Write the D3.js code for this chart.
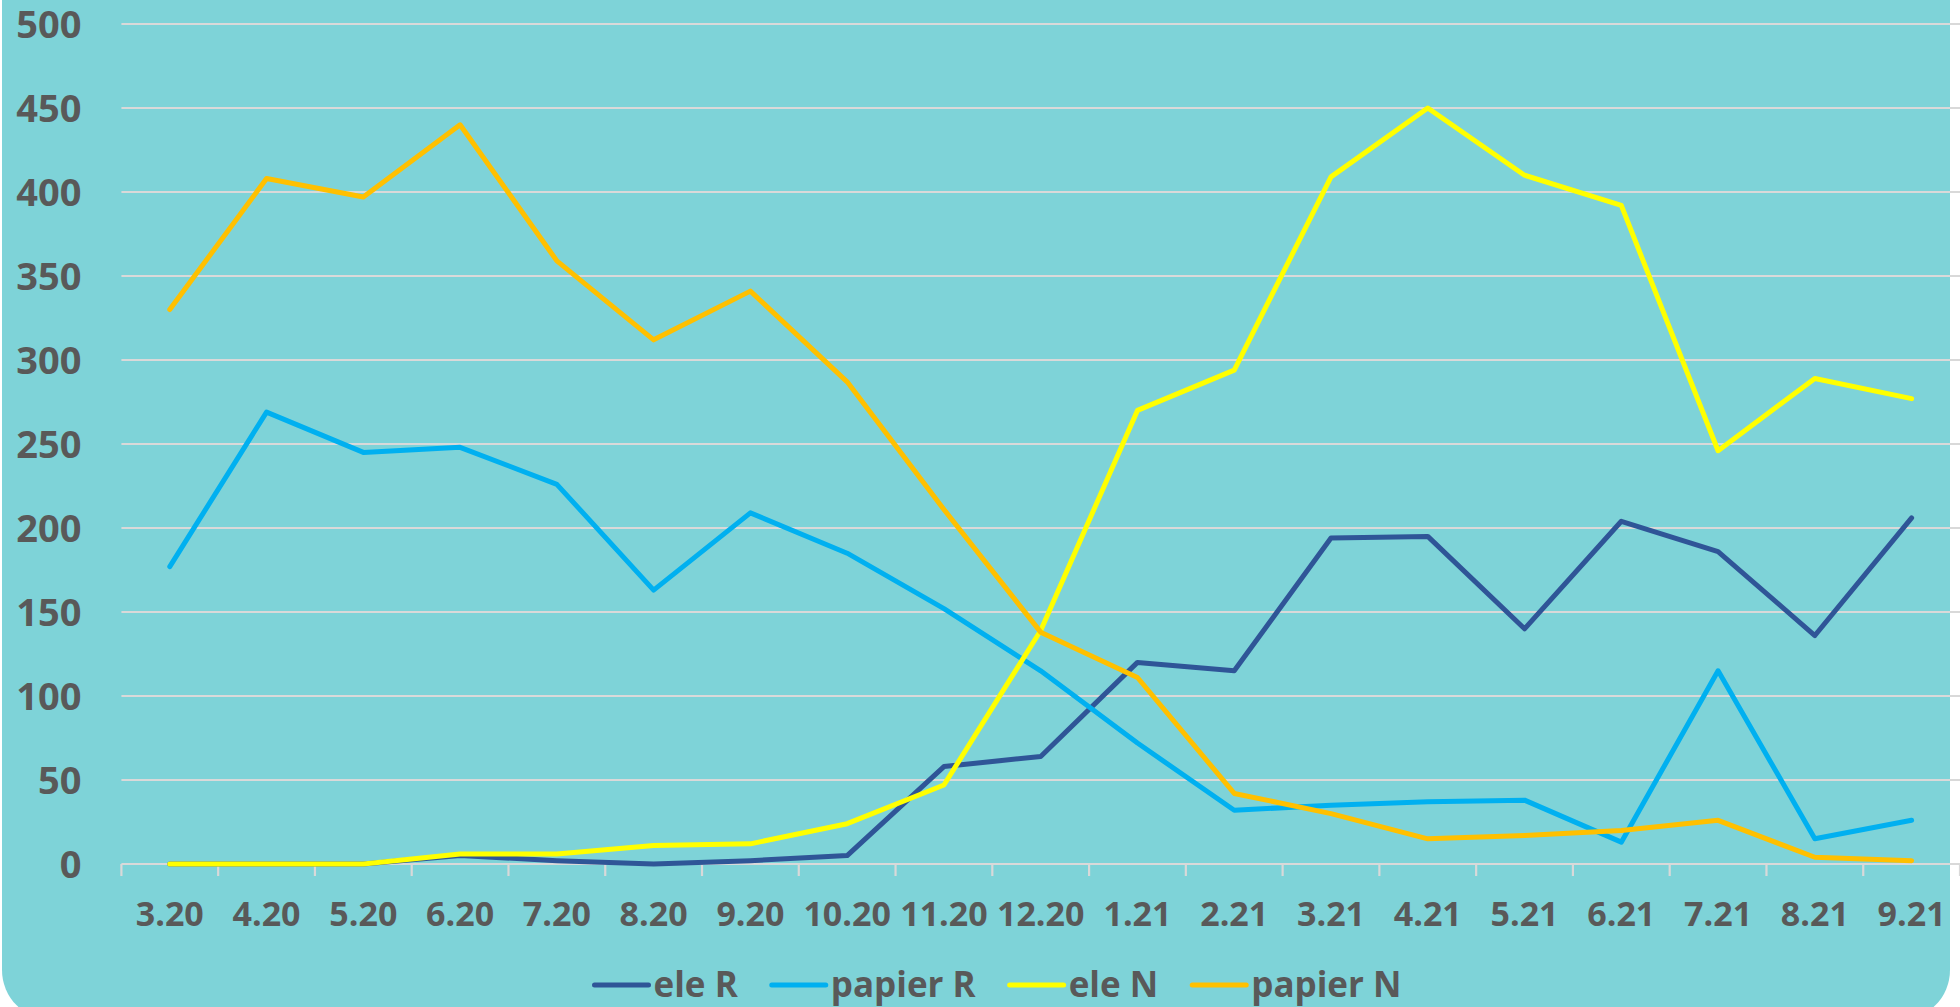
<!DOCTYPE html>
<html>
<head>
<meta charset="utf-8">
<script src="https://cdn.jsdelivr.net/npm/d3@7"></script>
<style>
  html, body { margin: 0; padding: 0; background: #ffffff; }
  svg { display: block; }
  text { font-family: "Open Sans", Lato, sans-serif; font-weight: 700; fill: #595959; }
</style>
</head>
<body>
<svg id="chart" width="1960" height="1007"></svg>
<script>
// months on the x axis
const months = ["3.20", "4.20", "5.20", "6.20", "7.20", "8.20", "9.20", "10.20", "11.20", "12.20",
  "1.21", "2.21", "3.21", "4.21", "5.21", "6.21", "7.21", "8.21", "9.21"]

const eleR    = [0, 0, 0, 5, 2, 0, 2, 5, 58, 64, 120, 115, 194, 195, 140, 204, 186, 136, 206]
const papierR = [177, 269, 245, 248, 226, 163, 209, 185, 152, 115, 72, 32, 35, 37, 38, 13, 115, 15, 26]
const eleN    = [0, 0, 0, 6, 6, 11, 12, 24, 47, 139, 270, 294, 409, 450, 410, 392, 246, 289, 277]
const papierN = [330, 408, 397, 440, 359, 312, 341, 287, 211, 138, 111, 42, 30, 15, 17, 20, 26, 4, 2]

const yTicks = [0, 50, 100, 150, 200, 250, 300, 350, 400, 450, 500]

const series = [
  { name: "ele R", values: eleR, color: "#2F5597" },
  { name: "papier R", values: papierR, color: "#00B0F0" },
  { name: "ele N", values: eleN, color: "#FFFF00" },
  { name: "papier N", values: papierN, color: "#FFC000" }
]

const svg = d3.select("#chart")
const plot = { left: 121.4, right: 1960, top: 24, bottom: 864 }

// teal card behind the chart
svg.append("rect")
  .attr("x", 2).attr("y", -100)
  .attr("width", 1948).attr("height", 1120)
  .attr("rx", 50).attr("ry", 50)
  .attr("fill", "#7ED3D8")

const x = d3.scaleBand()
  .domain(months)
  .range([plot.left, plot.right])
  .padding(0)

const y = d3.scaleLinear()
  .domain([0, 500])
  .range([plot.bottom, plot.top])

// gridlines
svg.append("g")
  .selectAll("line")
  .data(yTicks.filter(d => d > 0))
  .enter()
  .append("line")
  .attr("x1", plot.left).attr("x2", plot.right)
  .attr("y1", d => y(d)).attr("y2", d => y(d))
  .attr("stroke", "#D9D9D9")
  .attr("stroke-width", 2.2)

// y labels
const yAxis = svg.append("g")
  .attr("transform", `translate(${plot.left},0)`)
  .call(d3.axisLeft(y).tickValues(yTicks).tickSize(0).tickPadding(40))
yAxis.select(".domain").remove()
yAxis.selectAll("text")
  .attr("dy", "0.36em")
  .style("font-size", "38px")
  .attr("fill", "#595959")

// x axis line with tick marks between categories
svg.append("line")
  .attr("x1", plot.left).attr("x2", plot.right)
  .attr("y1", plot.bottom).attr("y2", plot.bottom)
  .attr("stroke", "#D9D9D9")
  .attr("stroke-width", 2.2)

svg.append("g")
  .selectAll("line")
  .data(months.concat(["end"]))
  .enter()
  .append("line")
  .attr("x1", (d, i) => plot.left + i * x.step())
  .attr("x2", (d, i) => plot.left + i * x.step())
  .attr("y1", plot.bottom).attr("y2", plot.bottom + 12)
  .attr("stroke", "#D9D9D9")
  .attr("stroke-width", 2.2)

const xAxis = svg.append("g")
  .attr("transform", `translate(0,${plot.bottom})`)
  .call(d3.axisBottom(x).tickSize(0).tickPadding(0))
xAxis.select(".domain").remove()
xAxis.selectAll("text")
  .attr("y", 62)
  .attr("dy", 0)
  .style("font-size", "34px")
  .attr("fill", "#595959")

// lines
const line = d3.line()
  .x((d, i) => x(months[i]) + x.bandwidth() / 2)
  .y(d => y(d))

svg.append("g")
  .selectAll("path")
  .data(series)
  .enter()
  .append("path")
  .attr("d", d => line(d.values))
  .attr("fill", "none")
  .attr("stroke", d => d.color)
  .attr("stroke-width", 5)
  .attr("stroke-linejoin", "round")
  .attr("stroke-linecap", "round")

// legend, laid out from measured text widths and centred
const legend = svg.append("g")
const items = legend.selectAll("g")
  .data(series)
  .enter()
  .append("g")
items.append("line")
  .attr("x1", 0).attr("x2", 54)
  .attr("y1", 985).attr("y2", 985)
  .attr("stroke", d => d.color)
  .attr("stroke-width", 5)
  .attr("stroke-linecap", "round")
items.append("text")
  .attr("x", 59)
  .attr("y", 997)
  .style("font-size", "35px")
  .text(d => d.name)

let cursor = 0
items.each(function() {
  const g = d3.select(this)
  g.attr("transform", `translate(${cursor},0)`)
  cursor += 59 + g.select("text").node().getComputedTextLength() + 34
})
const total = cursor - 34
legend.attr("transform", `translate(${998 - total / 2},0)`)
</script>
</body>
</html>
